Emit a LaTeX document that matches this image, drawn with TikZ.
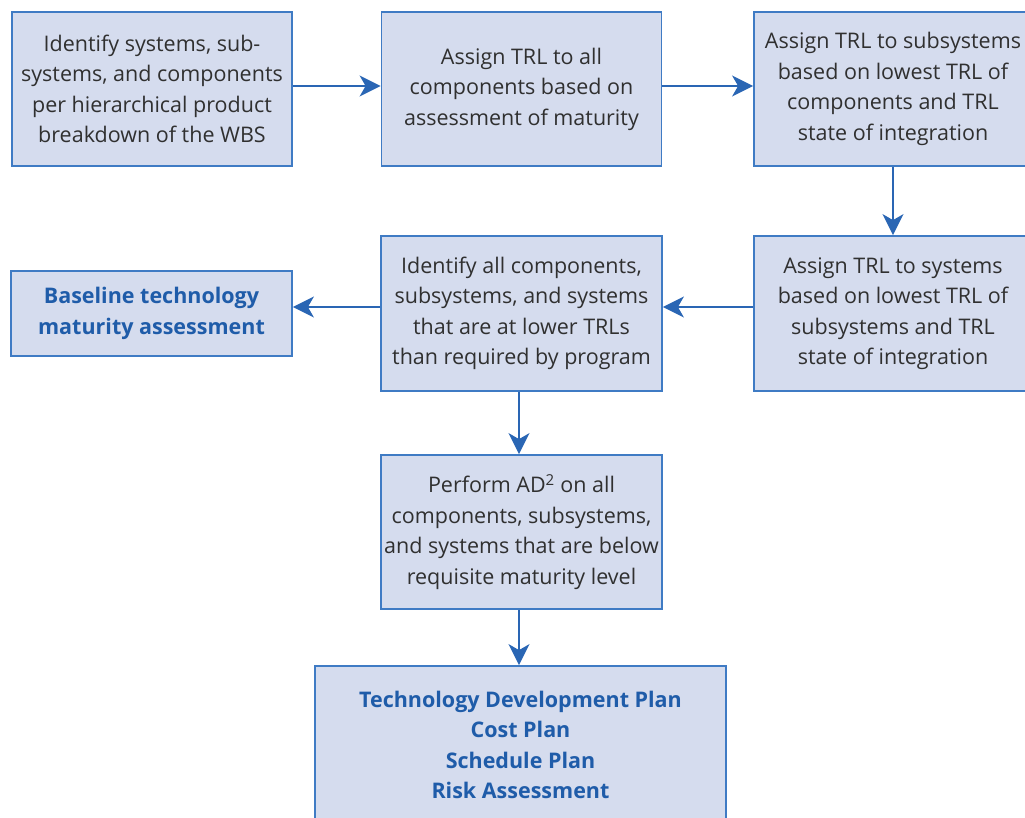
\documentclass[tikz,border=0pt]{standalone}
\usepackage{fontspec}
\setmainfont{Open Sans}
\usetikzlibrary{arrows.meta}
\definecolor{boxfill}{HTML}{D5DCEE}
\definecolor{boxline}{HTML}{3F7BC4}
\definecolor{txtgray}{HTML}{303030}
\definecolor{txtblue}{HTML}{1F5CA9}
\definecolor{arrowblue}{HTML}{2A66B4}
\tikzset{
  flowbox/.style={draw=boxline, fill=boxfill, line width=1.8pt, minimum width=280pt, minimum height=154pt,
    align=center, text=txtgray, inner sep=2pt, font=\fontsize{21.5}{30.5}\selectfont},
  outbox/.style={flowbox, text=txtblue, font=\fontsize{21.5}{30.5}\selectfont\bfseries},
  flowarrow/.style={draw=arrowblue, line width=2pt, -{Stealth[length=21pt,width=21pt,inset=6pt]}}
}
\begin{document}
\begin{tikzpicture}[x=1pt,y=-1pt]
\useasboundingbox (0,0) rectangle (1025,817);
\node[flowbox] (b1) at (152,89) {Identify systems, sub-\\systems, and components\\per hierarchical product\\breakdown of the WBS};
\node[flowbox] (b2) at (521.5,89) {Assign TRL to all\\components based on\\assessment of maturity};
\node[flowbox, minimum width=278pt] (b3) at (893,89) {Assign TRL to subsystems\\based on lowest TRL of\\components and TRL\\state of integration};
\node[flowbox, minimum width=278pt, minimum height=155pt] (b4) at (893,313.5) {Assign TRL to systems\\based on lowest TRL of\\subsystems and TRL\\state of integration};
\node[flowbox, minimum width=281pt, minimum height=155pt] (b5) at (521.5,313.5) {Identify all components,\\subsystems, and systems\\that are at lower TRLs\\than required by program};
\node[outbox, minimum width=281pt, minimum height=85pt] (b6) at (151.5,313.5) {Baseline technology\\maturity assessment};
\node[flowbox, minimum width=281pt] (b7) at (521.5,532) {Perform AD\textsuperscript{2} on all\\components, subsystems,\\and systems that are below\\requisite maturity level};
\node[outbox, minimum width=411pt, minimum height=158pt] (b8) at (520.5,745) {Technology Development Plan\\Cost Plan\\Schedule Plan\\Risk Assessment};
\draw[flowarrow] ([yshift=3pt]b1.east) -- ([yshift=3pt]b2.west);
\draw[flowarrow] ([yshift=3pt]b2.east) -- ([yshift=3pt]b3.west);
\draw[flowarrow] (b3.south) -- (b4.north);
\draw[flowarrow] ([yshift=6.5pt]b4.west) -- ([yshift=6.5pt]b5.west -| b5.east);
\draw[flowarrow] ([yshift=6.5pt]b5.west) -- ([yshift=6.5pt]b6.east);
\draw[flowarrow] ([xshift=-2.5pt]b5.south) -- ([xshift=-2.5pt]b7.north);
\draw[flowarrow] ([xshift=-2.5pt]b7.south) -- ([xshift=-1.5pt]b8.north);
\end{tikzpicture}
\end{document}
